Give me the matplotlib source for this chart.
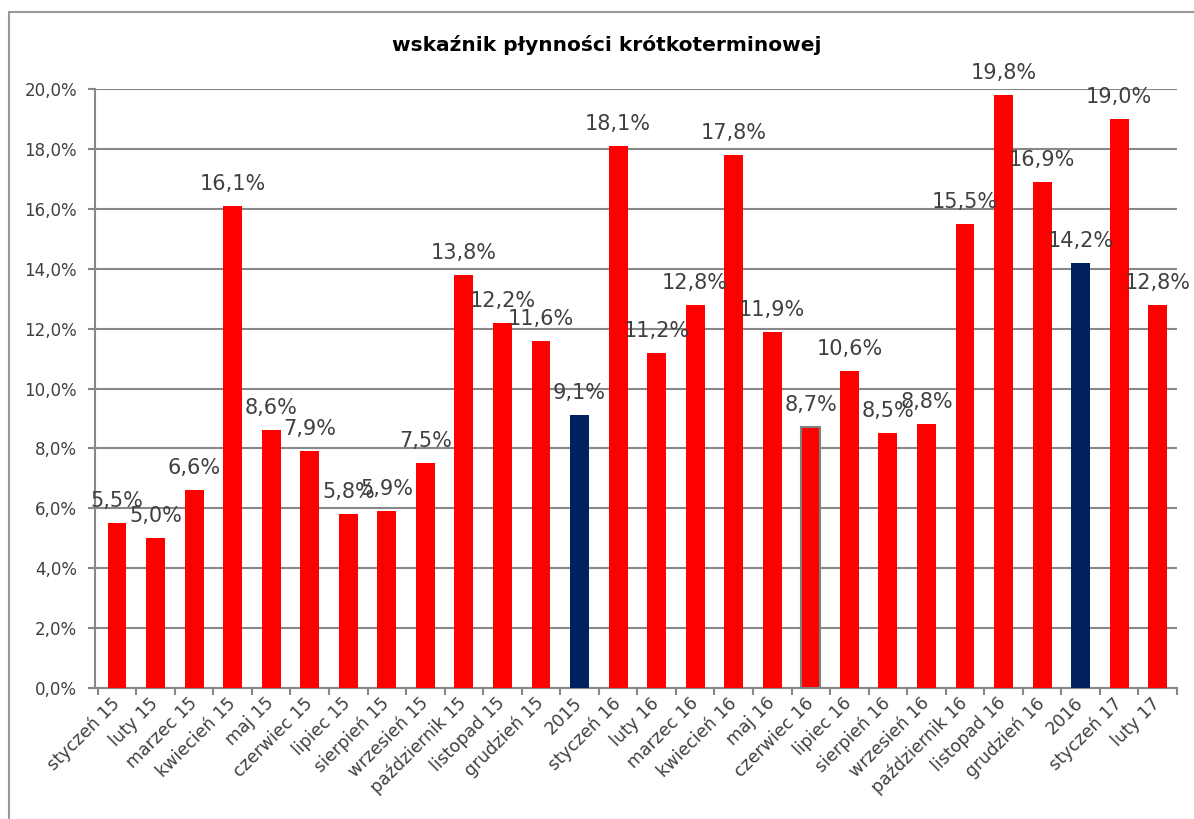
import matplotlib.pyplot as plt
from matplotlib.patches import Rectangle

kategorie = ['styczeń 15', 'luty 15', 'marzec 15', 'kwiecień 15', 'maj 15', 'czerwiec 15',
             'lipiec 15', 'sierpień 15', 'wrzesień 15', 'październik 15', 'listopad 15',
             'grudzień 15', '2015', 'styczeń 16', 'luty 16', 'marzec 16', 'kwiecień 16',
             'maj 16', 'czerwiec 16', 'lipiec 16', 'sierpień 16', 'wrzesień 16',
             'październik 16', 'listopad 16', 'grudzień 16', '2016', 'styczeń 17', 'luty 17']
wartosci = [5.5, 5.0, 6.6, 16.1, 8.6, 7.9, 5.8, 5.9, 7.5, 13.8, 12.2, 11.6, 9.1,
            18.1, 11.2, 12.8, 17.8, 11.9, 8.7, 10.6, 8.5, 8.8, 15.5, 19.8, 16.9,
            14.2, 19.0, 12.8]
lata = ['2015', '2016']

plt.rcParams['font.family'] = ['DejaVu Sans']
szary = '#888888'
tekst = '#404040'

fig = plt.figure(figsize=(11.94, 8.19), dpi=100)
ax = fig.add_axes([95/1194, 1 - 688/819, (1177-95)/1194, (688-89)/819])

# ramka wykresu
fig.patches.append(Rectangle((9/1194, -0.1), 1.2, 1 - 12/819 + 0.1, transform=fig.transFigure,
                             fill=False, edgecolor='#999999', linewidth=1.5))

kolory = ['#002060' if k in lata else '#ff0000' for k in kategorie]
x = list(range(len(kategorie)))
bary = ax.bar(x, wartosci, width=0.49, color=kolory, zorder=3)
bary[kategorie.index('czerwiec 16')].set_edgecolor('#808080')
bary[kategorie.index('czerwiec 16')].set_linewidth(1.5)

for i, v in enumerate(wartosci):
    ax.text(i, v + 0.4, ('%.1f' % v).replace('.', ',') + '%', ha='center', va='bottom',
            fontsize=15, color=tekst, zorder=4)

ax.set_ylim(0, 20)
ax.set_xlim(-0.57, 27.46)
ax.set_yticks([i * 2 for i in range(11)])
ax.set_yticklabels([('%.1f' % (i * 2)).replace('.', ',') + '%' for i in range(11)],
                   fontsize=12, color=tekst)
ax.yaxis.grid(True, color=szary, linewidth=1.5, zorder=0)
ax.set_axisbelow(True)

ax.set_xticks(x)
ax.set_xticklabels(kategorie, rotation=45, ha='right', va='center', rotation_mode='anchor',
                   fontsize=12.5, color=tekst)
ax.set_xticks([i - 0.5 for i in range(len(kategorie) + 1)], minor=True)
ax.tick_params(axis='x', which='major', length=0, pad=9)
ax.tick_params(axis='x', which='minor', length=5, width=1.5, color=szary)
ax.tick_params(axis='y', length=5, width=1.5, color=szary, pad=8)

for s in ['top', 'right']:
    ax.spines[s].set_visible(False)
for s in ['left', 'bottom']:
    ax.spines[s].set_color(szary)
    ax.spines[s].set_linewidth(1.5)

fig.text(607/1194, 1 - 45/819, 'wskaźnik płynności krótkoterminowej', ha='center', va='center',
         fontsize=14.5, fontweight='bold', color='#000000')

fig.savefig('out.png', dpi=100)
